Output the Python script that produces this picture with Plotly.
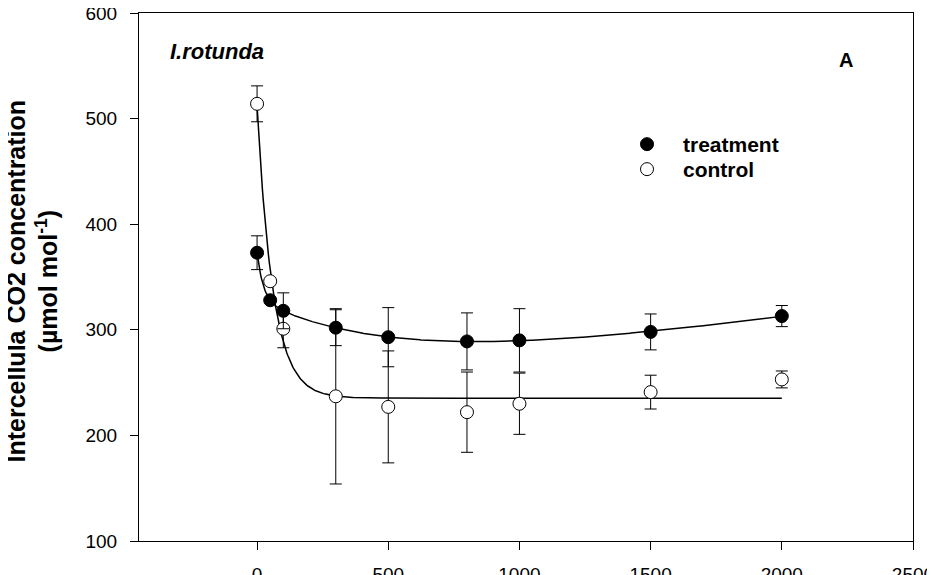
import numpy as np
import plotly.graph_objects as go

# ---- data ----
x_vals = [0, 50, 100, 300, 500, 800, 1000, 1500, 2000]
treatment_y = [373, 328, 318, 302, 293, 289, 290, 298, 313]
treatment_err = [16, 0, 17, 17, 28, 27, 30, 17, 10]
control_y = [514, 346, 301, 237, 227, 222, 230, 241, 253]
control_err = [17, 0, 18, 83, 53, 38, 29, 16, 8]

x_ticks = [0, 500, 1000, 1500, 2000, 2500]
y_ticks = [100, 200, 300, 400, 500, 600]

y_title = "<b>Intercellula CO2 concentration</b><br><b>(µmol mol<sup>-1</sup>)</b>"

FONT = "Liberation Sans, Arial, sans-serif"

xa = np.array(x_vals, dtype=float)
ty = np.array(treatment_y, dtype=float)
cy = np.array(control_y, dtype=float)


def lsq(cols, y):
    A = np.column_stack(cols)
    coef, *_ = np.linalg.lstsq(A, y, rcond=None)
    return coef, float(np.sum((A @ coef - y) ** 2))


# control: single exponential decay  y = y0 + a*exp(-b x)
best = None
for b in np.logspace(-3.5, -0.5, 3000):
    coef, sse = lsq([np.ones_like(xa), np.exp(-b * xa)], cy)
    if best is None or sse < best[0]:
        best = (sse, b, coef)
_, cb, cc = best

# treatment: double exponential decay plus linear trend
best = None
bgrid = np.logspace(-3.3, -0.7, 70)
for i, b1 in enumerate(bgrid):
    for b2 in bgrid[i + 1:]:
        coef, sse = lsq([np.ones_like(xa), xa, np.exp(-b1 * xa), np.exp(-b2 * xa)], ty)
        if best is None or sse < best[0]:
            best = (sse, b1, b2, coef)
_, tb1, tb2, tc = best

xf = np.linspace(min(x_vals), max(x_vals), 600)
ctrl_fit = cc[0] + cc[1] * np.exp(-cb * xf)
trt_fit = tc[0] + tc[1] * xf + tc[2] * np.exp(-tb1 * xf) + tc[3] * np.exp(-tb2 * xf)

fig = go.Figure()

fig.add_trace(go.Scatter(x=xf, y=trt_fit, mode="lines", line=dict(color="black", width=1.5),
                         showlegend=False, hoverinfo="skip"))
fig.add_trace(go.Scatter(x=xf, y=ctrl_fit, mode="lines", line=dict(color="black", width=1.5),
                         showlegend=False, hoverinfo="skip"))

fig.add_trace(go.Scatter(
    x=x_vals, y=control_y, mode="markers", name="control", legend="legend2",
    marker=dict(symbol="circle", size=13, color="white", line=dict(color="black", width=1)),
    error_y=dict(type="data", array=control_err, visible=True, color="black", thickness=1, width=6),
))
fig.add_trace(go.Scatter(
    x=x_vals, y=treatment_y, mode="markers", name="treatment", legend="legend",
    marker=dict(symbol="circle", size=13, color="black", line=dict(color="black", width=1)),
    error_y=dict(type="data", array=treatment_err, visible=True, color="black", thickness=1, width=6),
))

# page body has an 8px margin: figure is 927x567, plot area lands at 139..913 x 13..541
PW = 774.0
PH = 528.0
legend_font = dict(family=FONT, size=21, color="black", weight="bold")

fig.update_layout(
    template="none",
    width=927, height=567, autosize=False,
    margin=dict(l=131, r=22, t=5, b=34, autoexpand=False),
    paper_bgcolor="white", plot_bgcolor="white",
    font=dict(family=FONT, color="black", size=19),
    legend=dict(x=(611 - 139) / PW, y=(541 - 124) / PH, xanchor="left", yanchor="top",
                font=legend_font, bgcolor="rgba(0,0,0,0)", itemwidth=62),
    legend2=dict(x=(611 - 139) / PW, y=(541 - 149) / PH, xanchor="left", yanchor="top",
                 font=legend_font, bgcolor="rgba(0,0,0,0)", itemwidth=62),
    xaxis=dict(range=[-450, 2500], tickvals=x_ticks, ticktext=[str(v) for v in x_ticks],
               ticks="outside", ticklen=8, tickwidth=1, tickcolor="black",
               showline=True, linecolor="black", linewidth=1, mirror=True,
               showgrid=False, zeroline=False, ticklabelstandoff=8, automargin=False,
               ticklabeloverflow="allow", tickfont=dict(size=19, family=FONT)),
    yaxis=dict(range=[100, 600], tickvals=y_ticks, ticktext=[str(v) for v in y_ticks],
               ticks="outside", ticklen=8, tickwidth=1, tickcolor="black",
               showline=True, linecolor="black", linewidth=1, mirror=True,
               showgrid=False, zeroline=False, ticklabelstandoff=9, automargin=False,
               ticklabeloverflow="allow", tickfont=dict(size=19, family=FONT)),
)

fig.add_annotation(xref="paper", yref="paper", x=(32 - 139) / PW, y=(541 - 281.5) / PH,
                   xanchor="center", yanchor="middle", showarrow=False, textangle=-90,
                   text=y_title, font=dict(size=25, family=FONT))
fig.add_annotation(xref="paper", yref="paper", x=(168 - 139) / PW, y=(541 - 52) / PH,
                   xanchor="left", yanchor="middle", showarrow=False,
                   text="<b><i>I.rotunda</i></b>", font=dict(size=22, family=FONT))
fig.add_annotation(xref="paper", yref="paper", x=(846 - 139) / PW, y=(541 - 60) / PH,
                   xanchor="center", yanchor="middle", showarrow=False,
                   text="<b>A</b>", font=dict(size=20, family=FONT))

fig.write_html("out.html")
